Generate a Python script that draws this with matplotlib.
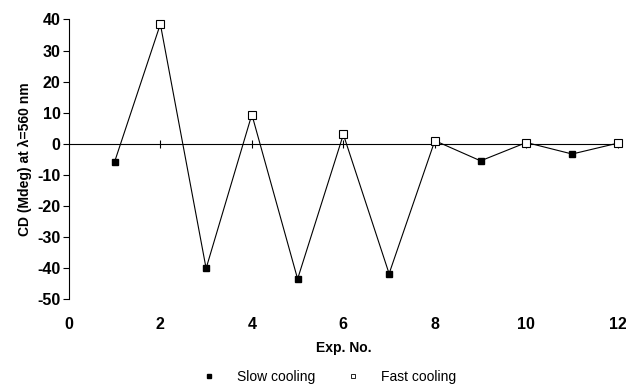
import matplotlib
matplotlib.use("Agg")
import matplotlib.pyplot as plt
from matplotlib.lines import Line2D

plt.rcParams['font.family'] = ['Liberation Sans', 'DejaVu Sans']
plt.rcParams['axes.unicode_minus'] = False

# data
exp_no = [1, 2, 3, 4, 5, 6, 7, 8, 9, 10, 11, 12]
cd_values = [-5.8, 38.5, -40.1, 9.4, -43.5, 3.0, -41.8, 1.0, -5.5, 0.4, -3.3, 0.2]
slow_x = [1, 3, 5, 7, 9, 11]
slow_y = [-5.8, -40.1, -43.5, -41.8, -5.5, -3.3]
fast_x = [2, 4, 6, 8, 10, 12]
fast_y = [38.5, 9.4, 3.0, 1.0, 0.4, 0.2]
x_ticks = [0, 2, 4, 6, 8, 10, 12]
y_ticks = [-50, -40, -30, -20, -10, 0, 10, 20, 30, 40]

fig = plt.figure(figsize=(6.26, 3.89), dpi=100)
ax = fig.add_axes([0.110, 0.231, 0.877, 0.719])

# connecting line through all experiments
ax.plot(exp_no, cd_values, color='black', linewidth=0.8, zorder=2, clip_on=False)
ax.plot(slow_x, slow_y, linestyle='none', marker='s', markersize=4,
        markerfacecolor='black', markeredgecolor='black', zorder=3, clip_on=False)
ax.plot(fast_x, fast_y, linestyle='none', marker='s', markersize=5.5,
        markerfacecolor='white', markeredgecolor='black', markeredgewidth=0.8,
        zorder=3, clip_on=False)

# zero line with small tick marks
ax.axhline(0, color='black', linewidth=0.8, zorder=1)
ax.plot(x_ticks[1:], [0] * len(x_ticks[1:]), linestyle='none', marker='|',
        markersize=6, color='black', markeredgewidth=0.8, zorder=1)

ax.set_xlim(0, 12)
ax.set_ylim(-50, 40)
ax.set_xticks(x_ticks)
ax.set_yticks(y_ticks)

for s in ['top', 'right', 'bottom']:
    ax.spines[s].set_visible(False)
ax.spines['left'].set_linewidth(0.8)

ax.tick_params(axis='x', length=0, pad=13, labelsize=11.5)
ax.tick_params(axis='y', direction='out', length=4, width=0.8, pad=2, labelsize=11.5)
for lbl in ax.get_xticklabels() + ax.get_yticklabels():
    lbl.set_fontweight('bold')

ax.set_xlabel('Exp. No.', fontsize=10, fontweight='bold', labelpad=6)
ax.set_ylabel('CD (Mdeg) at \u03bb=560 nm', fontsize=10, fontweight='bold', labelpad=4)

handles = [
    Line2D([], [], linestyle='none', marker='s', markersize=3,
           markerfacecolor='black', markeredgecolor='black'),
    Line2D([], [], linestyle='none', marker='s', markersize=3.5,
           markerfacecolor='white', markeredgecolor='black', markeredgewidth=0.6),
]
fig.legend(handles, ['Slow cooling', 'Fast cooling'], loc='center',
           bbox_to_anchor=(0.52, 0.03), ncol=2, frameon=False, fontsize=10,
           handletextpad=1.0, columnspacing=1.7)

fig.savefig('out.png', dpi=100)
